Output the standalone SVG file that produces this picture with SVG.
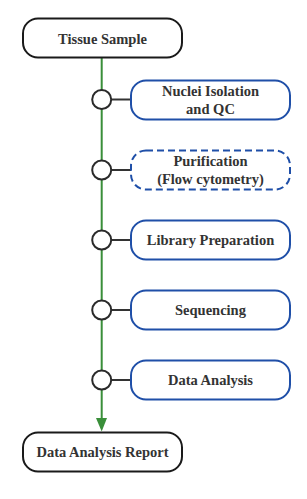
<svg xmlns="http://www.w3.org/2000/svg" width="307" height="499" viewBox="0 0 307 499">
<defs>
<style>
.term{fill:#fff;stroke:#1a1a1a;stroke-width:2}
.step{fill:#fff;stroke:#1f4fa8;stroke-width:2}
.dash{stroke-dasharray:7 4}
.dot{fill:#fff;stroke:#2a2a2a;stroke-width:2}
.link{stroke:#333;stroke-width:2;fill:none}
.spine{stroke:#3a8f3a;stroke-width:2;fill:none}
.lbl{font-weight:bold;font-size:14.5px;fill:#333;text-anchor:middle}
</style>
</defs>
<g id="connectors">
<line class="spine" x1="101.7" y1="57" x2="101.7" y2="420"/>
<path d="M96,418 L107,418 L101.7,431.5 Z" fill="#3a8f3a"/>
<line class="link" x1="111" y1="99.5" x2="131" y2="99.5"/>
<line class="link" x1="111" y1="170" x2="131" y2="170"/>
<line class="link" x1="111" y1="240" x2="131" y2="240"/>
<line class="link" x1="111" y1="310" x2="131" y2="310"/>
<line class="link" x1="111" y1="380" x2="131" y2="380"/>
</g>
<g font-family="'Liberation Serif', 'DejaVu Serif', serif">
<g id="tissue-sample">
<rect class="term" x="23" y="18.5" width="159" height="39" rx="15"/>
<text class="lbl" x="102.5" y="43.5">Tissue Sample</text>
</g>
<g id="dot1"><circle class="dot" cx="101.7" cy="99.5" r="9.5"/></g>
<g id="nuclei-isolation">
<rect class="step" x="131" y="80.5" width="159" height="39" rx="15"/>
<text class="lbl" x="210.5" y="96">Nuclei Isolation</text>
<text class="lbl" x="210.5" y="114">and QC</text>
</g>
<g id="dot2"><circle class="dot" cx="101.7" cy="170" r="9.5"/></g>
<g id="purification">
<rect class="step dash" x="131" y="150.5" width="159" height="39" rx="15"/>
<text class="lbl" x="210.5" y="166">Purification</text>
<text class="lbl" x="210.5" y="184">(Flow cytometry)</text>
</g>
<g id="dot3"><circle class="dot" cx="101.7" cy="240" r="9.5"/></g>
<g id="library-preparation">
<rect class="step" x="131" y="220.5" width="159" height="39" rx="15"/>
<text class="lbl" x="210.5" y="245">Library Preparation</text>
</g>
<g id="dot4"><circle class="dot" cx="101.7" cy="310" r="9.5"/></g>
<g id="sequencing">
<rect class="step" x="131" y="290.5" width="159" height="39" rx="15"/>
<text class="lbl" x="210.5" y="315">Sequencing</text>
</g>
<g id="dot5"><circle class="dot" cx="101.7" cy="380" r="9.5"/></g>
<g id="data-analysis">
<rect class="step" x="131" y="360.5" width="159" height="39" rx="15"/>
<text class="lbl" x="210.5" y="385">Data Analysis</text>
</g>
<g id="data-analysis-report">
<rect class="term" x="23" y="432.5" width="159" height="39" rx="15"/>
<text class="lbl" x="102.5" y="457">Data Analysis Report</text>
</g>
</g>
</svg>
